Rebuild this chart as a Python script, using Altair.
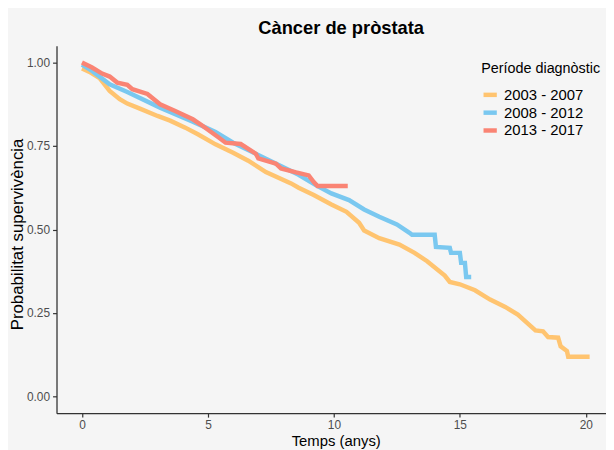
import altair as alt
import pandas as pd

groups = ["2003 - 2007", "2008 - 2012", "2013 - 2017"]
colors = ["#FFC470", "#7AC8F0", "#FA8474"]

t_2003 = [0.0, 0.3, 0.7, 1.1, 1.5, 1.8, 2.3, 3.0, 3.5, 4.1, 4.6, 5.3, 6.0, 6.6, 7.3,
          8.3, 8.6, 9.2, 9.9, 10.5, 11.0, 11.2, 11.8, 12.6, 13.2, 13.7, 14.4, 14.6,
          15.0, 15.6, 16.2, 16.8, 17.3, 17.7, 18.0, 18.3, 18.5, 18.9, 19.0, 19.25,
          19.3, 20.15]
s_2003 = [0.982, 0.972, 0.953, 0.915, 0.89, 0.877, 0.862, 0.84, 0.826, 0.805, 0.785,
          0.755, 0.73, 0.706, 0.672, 0.638, 0.625, 0.603, 0.575, 0.553, 0.52, 0.497,
          0.474, 0.455, 0.43, 0.405, 0.362, 0.343, 0.336, 0.318, 0.29, 0.268, 0.245,
          0.218, 0.198, 0.195, 0.178, 0.176, 0.150, 0.136, 0.119, 0.119]

t_2008 = [0.0, 0.4, 1.1, 1.8, 3.1, 4.4, 5.3, 6.0, 7.3, 8.6, 9.3, 9.9, 10.6, 11.2,
          11.8, 12.5, 13.0, 13.1, 14.0, 14.05, 14.6, 14.65, 15.0, 15.05, 15.2, 15.25,
          15.45]
s_2008 = [0.994, 0.975, 0.935, 0.912, 0.865, 0.823, 0.792, 0.76, 0.712, 0.664, 0.632,
          0.608, 0.588, 0.56, 0.538, 0.515, 0.49, 0.484, 0.484, 0.448, 0.445, 0.43,
          0.43, 0.40, 0.40, 0.358, 0.358]

t_2013 = [0.0, 0.4, 0.8, 1.1, 1.4, 1.8, 2.0, 2.6, 3.1, 3.7, 4.4, 4.7, 5.4, 5.7, 6.3,
          6.9, 7.0, 7.7, 7.9, 8.5, 9.0, 9.2, 9.35, 10.55]
s_2013 = [1.0, 0.985, 0.967, 0.958, 0.94, 0.933, 0.92, 0.906, 0.875, 0.855, 0.83,
          0.815, 0.777, 0.76, 0.756, 0.727, 0.713, 0.697, 0.683, 0.671, 0.662, 0.642,
          0.63, 0.63]

rows = []
for g, ts, ss in zip(groups, [t_2003, t_2008, t_2013], [s_2003, s_2008, s_2013]):
    for i, (t, s) in enumerate(zip(ts, ss)):
        rows.append({"grup": g, "temps": t, "surv": s, "ord": i})
df = pd.DataFrame(rows)

FONT = "Liberation Sans"

chart = alt.Chart(df).mark_line(strokeWidth=4.5, interpolate="linear").encode(
    x=alt.X("temps:Q",
            scale=alt.Scale(domain=[-1.01, 20.8], nice=False, zero=False),
            axis=alt.Axis(values=[0, 5, 10, 15, 20], title="Temps (anys)",
                          titleFontSize=15, titleX=282, titleY=21,
                          titleAlign="center", titleBaseline="top",
                          labelPadding=3)),
    y=alt.Y("surv:Q",
            scale=alt.Scale(domain=[-0.05, 1.05], nice=False, zero=False),
            axis=alt.Axis(values=[0, 0.25, 0.5, 0.75, 1.0], format=".2f",
                          title="Probabilitat supervivència", titleFontSize=17,
                          titleX=-39, titleY=190, titleAngle=270,
                          titleAlign="center", titleBaseline="middle",
                          labelPadding=3)),
    color=alt.Color("grup:N",
                    scale=alt.Scale(domain=groups, range=colors),
                    legend=alt.Legend(title="Període diagnòstic", orient="none",
                                      legendX=429, legendY=16, symbolType="stroke",
                                      symbolSize=180, symbolStrokeWidth=4.5,
                                      titleFontSize=14.5, titleFontWeight="normal",
                                      titleColor="black", titleFont=FONT,
                                      labelFontSize=15, labelColor="black",
                                      labelFont=FONT, rowPadding=0, titlePadding=10,
                                      labelOffset=5, padding=0)),
    order="ord:Q",
).properties(
    width=555,
    height=371,
    autosize=alt.AutoSizeParams(type="none"),
    padding={"left": 49, "top": 36, "right": 0, "bottom": 35},
    background="#F5F5F5",
    title=alt.TitleParams("Càncer de pròstata", fontSize=18.5, fontWeight="bold",
                          font=FONT, anchor="middle", offset=8, color="black", dx=10),
).configure_view(
    stroke=None, fill="#F5F5F5"
).configure_axis(
    grid=False, domainColor="#333333", domainWidth=1.3, tickColor="#333333",
    tickSize=4, tickWidth=1.2, labelColor="#4D4D4D", labelFont=FONT, labelFontSize=12,
    titleFont=FONT, titleFontWeight="normal", titleColor="black",
)

chart.save("out.html", embed_options={"renderer": "svg", "actions": False})
